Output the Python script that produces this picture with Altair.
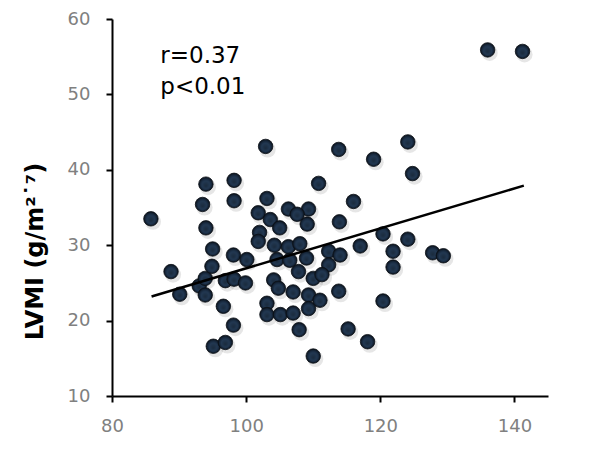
import altair as alt
import pandas as pd

# x values (unlabelled x-axis) and LVMI values
x_vals = [85.8, 88.8, 90.1, 93.5, 94.0, 94.0, 93.0, 93.9, 93.9, 95.0,
          94.9, 95.1, 96.9, 96.6, 98.1, 98.2, 98.2, 98.1, 96.9, 98.2,
          100.1, 99.9, 102.9, 103.1, 101.8, 102.0, 101.8, 103.6, 105.0, 104.2,
          104.6, 106.3, 106.3, 108.0, 109.3, 109.1, 107.6, 109.0, 107.8, 104.1,
          104.8, 103.1, 103.1, 105.1, 107.0, 107.0, 107.9, 109.3, 109.3, 110.0,
          111.0, 110.0, 110.8, 112.3, 112.3, 113.8, 113.9, 114.0, 113.8, 115.2,
          116.0, 117.0, 118.1, 119.0, 120.4, 120.4, 121.9, 121.9, 124.1, 124.8,
          124.1, 127.8, 129.4, 136.0, 141.2, 106.5, 111.3]
lvmi_vals = [33.5, 26.5, 23.5, 35.4, 38.1, 32.3, 24.6, 23.4, 25.6, 29.5,
             27.2, 16.6, 17.1, 21.9, 19.4, 38.6, 35.9, 28.7, 25.3, 25.5,
             28.1, 25.0, 43.1, 36.2, 34.3, 31.7, 30.5, 33.4, 32.3, 30.0,
             28.1, 34.8, 29.8, 30.2, 34.8, 32.8, 34.1, 28.3, 26.5, 25.4,
             24.3, 22.3, 20.8, 20.8, 23.8, 21.0, 18.8, 23.4, 21.6, 25.6,
             22.7, 15.3, 38.2, 29.2, 27.4, 42.7, 33.1, 28.7, 23.9, 18.9,
             35.8, 29.9, 17.2, 41.4, 31.5, 22.6, 29.2, 27.1, 43.7, 39.5,
             30.8, 29.0, 28.6, 55.9, 55.7, 28.0, 26.1]

# regression line end points
line_x = [85.9, 141.4]
line_y = [23.2, 37.9]

# annotation
ann_text = ["r=0.37", "p<0.01"]
ann_x = [87.2, 87.2]
ann_y = [54.2, 50.0]

x_ticks = [80, 100, 120, 140]
y_ticks = [10, 20, 30, 40, 50, 60]

pts = pd.DataFrame({"x": x_vals, "y": lvmi_vals})
ln = pd.DataFrame({"x": line_x, "y": line_y})
ann = pd.DataFrame({"t": ann_text, "x": ann_x, "y": ann_y})

FONT = "DejaVu Sans"

xs = alt.Scale(domain=[80, 145], nice=False, zero=False)
ys = alt.Scale(domain=[10, 60], nice=False, zero=False)

x_axis = alt.Axis(values=x_ticks, title=None, grid=False, domainColor="black",
                  domainWidth=2, tickColor="black", tickWidth=2, tickSize=6,
                  labelColor="#808080", labelFont=FONT, labelFontSize=18,
                  labelPadding=15, labelFlush=False)
y_axis = alt.Axis(values=y_ticks, title="LVMI (g/m²˙⁷)", grid=False,
                  domainColor="black", domainWidth=2, tickColor="black",
                  tickWidth=2, tickSize=6, labelColor="#808080", labelFont=FONT,
                  labelFontSize=18, labelPadding=16, labelFlush=False,
                  titleFont=FONT, titleFontSize=24, titleFontWeight="bold",
                  titleColor="black", titleX=-65, titleY=232)

grad = alt.RadialGradient(
    gradient="radial", x1=0.5, y1=0.62, r1=0, x2=0.5, y2=0.5, r2=0.5,
    stops=[alt.GradientStop(offset=0, color="#1a2a3c"),
           alt.GradientStop(offset=0.55, color="#223852"),
           alt.GradientStop(offset=0.8, color="#16263a"),
           alt.GradientStop(offset=1, color="#0a1018")])

shadow = alt.Chart(pts).mark_circle(size=260, color="#777777", opacity=0.18,
                                    xOffset=2, yOffset=3).encode(
    x=alt.X("x:Q", scale=xs, axis=x_axis),
    y=alt.Y("y:Q", scale=ys, axis=y_axis))

balls = alt.Chart(pts).mark_point(shape="circle", filled=True, size=210,
                                  fill=grad, stroke="#0a0f15", strokeWidth=0.8,
                                  opacity=1).encode(
    x=alt.X("x:Q", scale=xs), y=alt.Y("y:Q", scale=ys))

line = alt.Chart(ln).mark_line(color="black", strokeWidth=2.5).encode(
    x=alt.X("x:Q", scale=xs), y=alt.Y("y:Q", scale=ys))

text = alt.Chart(ann).mark_text(align="left", baseline="alphabetic", font=FONT,
                                fontSize=23, color="black").encode(
    x=alt.X("x:Q", scale=xs), y=alt.Y("y:Q", scale=ys), text="t:N")

chart = (shadow + balls + line + text).properties(
    width=436, height=377,
    autosize=alt.AutoSizeParams(type="none"),
    padding={"left": 104, "top": 11, "right": 50, "bottom": 60},
    background="white",
).configure_view(stroke=None)

chart.save("out.html", embed_options={"renderer": "svg", "actions": False})
